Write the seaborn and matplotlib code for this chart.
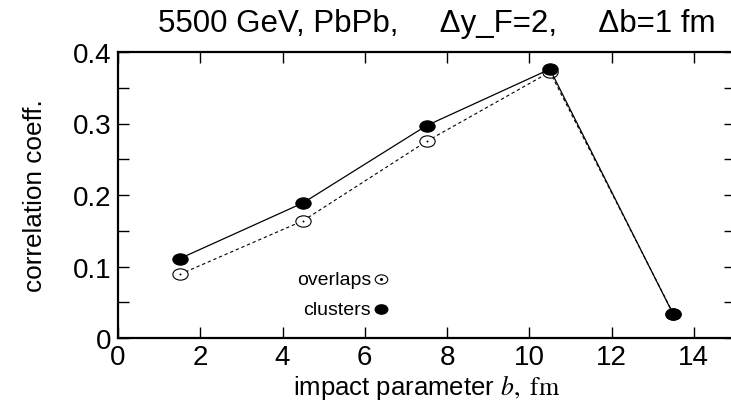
import numpy as np
import pandas as pd
import matplotlib
matplotlib.use("Agg")
import matplotlib.pyplot as plt
import seaborn as sns
from matplotlib.path import Path
from matplotlib.transforms import Affine2D

b_values = [1.5, 4.5, 7.5, 10.5, 13.5]
clusters = [0.111, 0.189, 0.297, 0.376, 0.033]
overlaps = [0.089, 0.164, 0.275, 0.372, 0.034]
x_ticks = [0, 2, 4, 6, 8, 10, 12, 14]
y_ticks = [0, 0.1, 0.2, 0.3, 0.4]
y_tick_labels = ["0", "0.1", "0.2", "0.3", "0.4"]
title_text = "5500 GeV, PbPb,     \u0394y_F=2,     \u0394b=1 fm"

sns.set_style("ticks")
plt.rcParams['font.family'] = ['Liberation Sans', 'DejaVu Sans']
plt.rcParams['mathtext.fontset'] = 'stix'
plt.rcParams['text.color'] = 'black'
plt.rcParams['axes.labelcolor'] = 'black'
plt.rcParams['xtick.color'] = 'black'
plt.rcParams['ytick.color'] = 'black'

ellipse = Path.unit_circle().transformed(Affine2D().scale(1.35, 1.0))

df_c = pd.DataFrame({"b": b_values, "r": clusters})
df_o = pd.DataFrame({"b": b_values, "r": overlaps})

fig = plt.figure(figsize=(7.31, 4.06), dpi=100)
ax = fig.add_axes([118 / 731, 1 - 339 / 406, (735 - 118) / 731, (339 - 53) / 406])

sns.lineplot(data=df_o, x="b", y="r", ax=ax, color="black", lw=0.8,
             linestyle=(0, (3, 2.5)), marker=ellipse, markersize=11,
             markerfacecolor="white", markeredgecolor="black", markeredgewidth=0.8)
sns.scatterplot(data=df_o, x="b", y="r", ax=ax, color="black", s=2, linewidth=0, zorder=5)
sns.lineplot(data=df_c, x="b", y="r", ax=ax, color="black", lw=0.9,
             marker=ellipse, markersize=11, markerfacecolor="black",
             markeredgecolor="black", markeredgewidth=0.8)

# legend-like annotation
leg_x = [6.39, 6.39]
leg_y = [0.0825, 0.0405]
ax.plot([leg_x[0]], [leg_y[0]], marker=ellipse, markersize=9, markerfacecolor="white",
        markeredgecolor="black", markeredgewidth=0.8, linestyle="none")
ax.plot([leg_x[0]], [leg_y[0]], marker="o", markersize=1.2, color="black", linestyle="none")
ax.plot([leg_x[1]], [leg_y[1]], marker=ellipse, markersize=9, color="black", linestyle="none")
ax.text(6.15, leg_y[0], "overlaps", ha="right", va="center", fontsize=14)
ax.text(6.15, leg_y[1], "clusters", ha="right", va="center", fontsize=14)

ax.set_xlim(0, 15)
ax.set_ylim(0, 0.4)
ax.set_xticks(x_ticks)
ax.set_xticklabels([str(t) for t in x_ticks])
ax.set_yticks(y_ticks)
ax.set_yticklabels(y_tick_labels)
ax.set_yticks(np.arange(0.05, 0.4, 0.1), minor=True)
ax.tick_params(which="both", direction="in", top=True, right=True, length=8,
               width=1, labelsize=20, color="black", labelcolor="black")
ax.tick_params(axis="x", pad=4)
ax.tick_params(axis="y", pad=5)
for s in ax.spines.values():
    s.set_linewidth(1.6)
    s.set_color("black")

ax.set_xlabel(r"impact parameter $b,\ \mathrm{fm}$", fontsize=18.5, labelpad=2, color="black")
ax.set_ylabel("correlation coeff.", fontsize=18.8, color="black")
ax.yaxis.set_label_coords(-(118 - 47) / (735 - 118), 0.5)
ax.text((437 - 118) / (735 - 118), 1.05, title_text, transform=ax.transAxes,
        ha="center", va="bottom", fontsize=22.5, color="black")

fig.savefig("out.png", dpi=100)
